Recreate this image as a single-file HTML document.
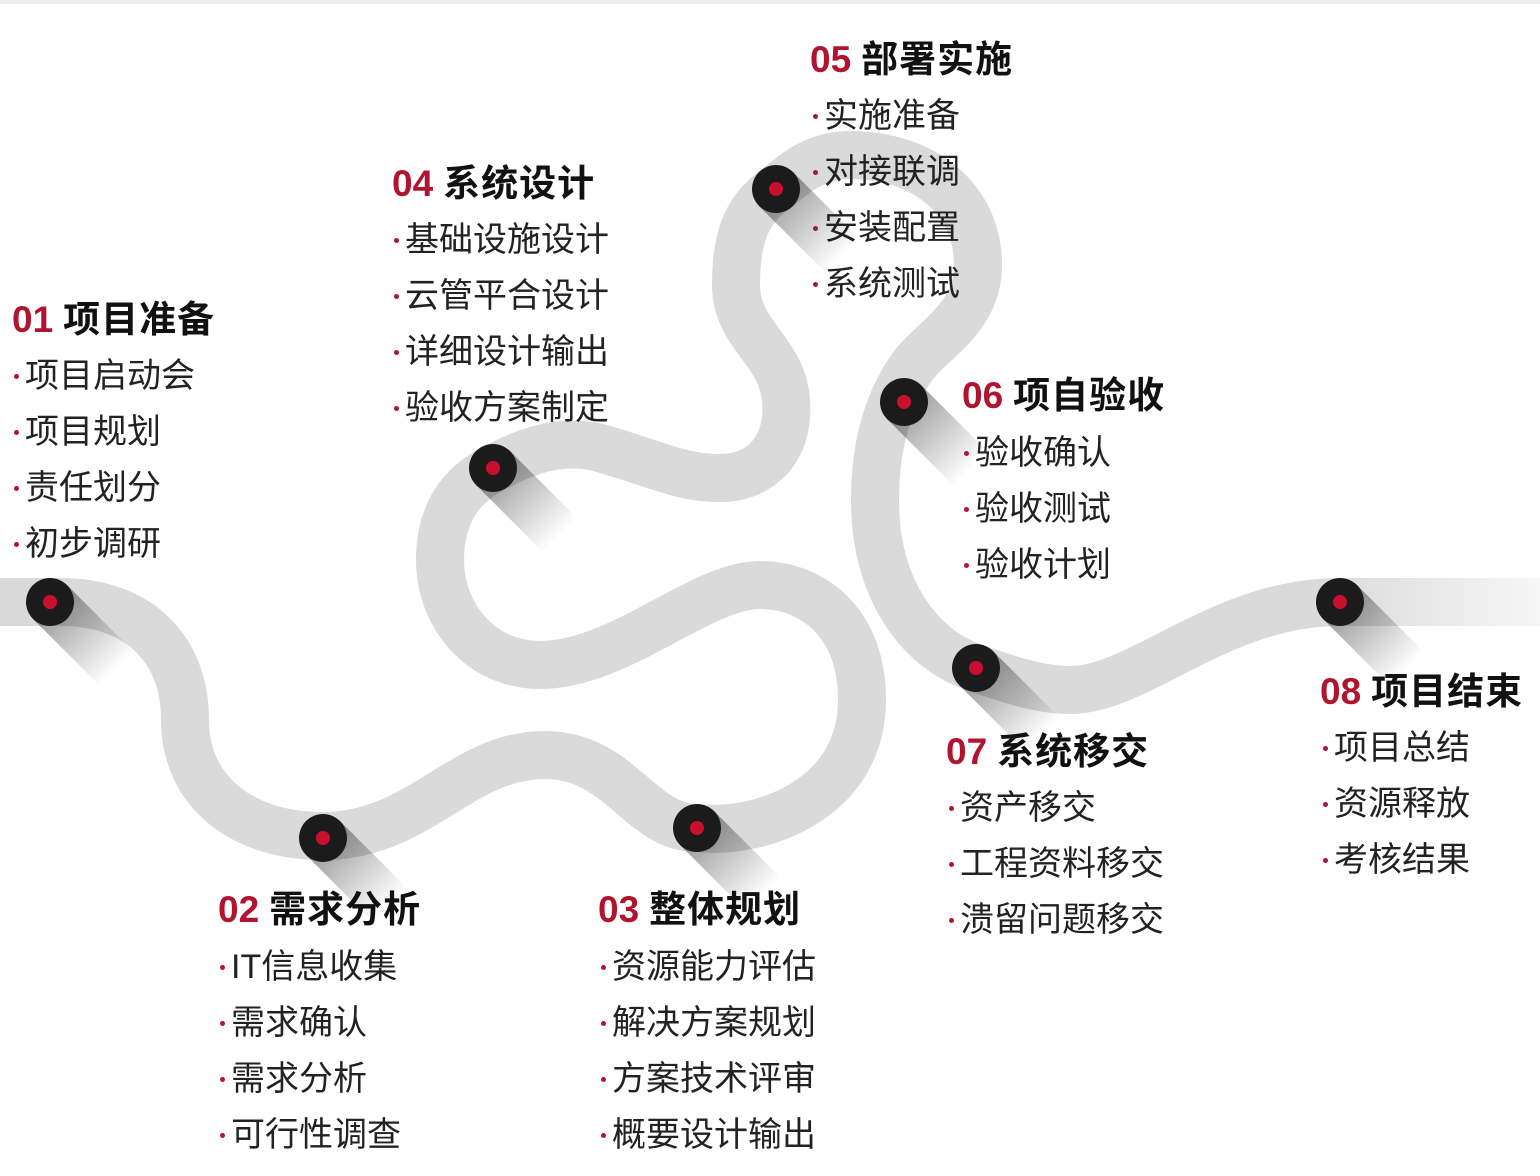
<!DOCTYPE html>
<html><head><meta charset="utf-8">
<style>
html,body{margin:0;padding:0;background:#fff;}
body{width:1540px;height:1176px;position:relative;overflow:hidden;font-family:"Liberation Sans","Noto Sans CJK SC",sans-serif;}
svg{position:absolute;left:0;top:0;}
.t{position:absolute;font-size:37px;font-weight:bold;color:#111;line-height:44px;white-space:nowrap;letter-spacing:1px;}
.t b{color:#b0142f;font-weight:bold;margin-right:10px;letter-spacing:0;}
.i{position:absolute;font-size:34px;color:#222;line-height:40px;white-space:nowrap;}
.i:before{content:"";display:inline-block;width:5px;height:5px;border-radius:50%;background:#b0142f;vertical-align:middle;margin-right:6px;position:relative;top:-2px;}
</style></head><body>
<svg width="1540" height="1176" viewBox="0 0 1540 1176">
<defs>
<linearGradient id="fade" x1="0" y1="0" x2="1" y2="0">
<stop offset="0" stop-color="#dadada"/><stop offset="0.85" stop-color="#dadada"/><stop offset="1" stop-color="#dadada" stop-opacity="0.2"/>
</linearGradient>
<linearGradient id="sh" x1="0" y1="0" x2="1" y2="0">
<stop offset="0" stop-color="#000" stop-opacity="0.4"/><stop offset="1" stop-color="#000" stop-opacity="0"/>
</linearGradient>
</defs>
<rect x="0" y="0" width="1540" height="4" fill="#eee"/>
<path fill="none" stroke="url(#fade)" stroke-width="48" stroke-linecap="butt" d="
M -10 602 L 60 602
C 140 602, 185 650, 185 720
C 185 790, 240 836, 323 836
C 420 836, 460 755, 545 755
C 620 755, 640 828, 697 828
C 760 835, 862 800, 862 700
C 862 620, 810 585, 760 585
C 700 585, 620 665, 540 665
C 480 665, 440 615, 440 560
C 440 515, 460 485, 493 469
C 535 445, 570 440, 600 448
C 660 465, 680 478, 720 478
C 760 478, 790 450, 786 400
C 782 350, 736 335, 736 285
C 736 240, 745 210, 776 189
C 800 168, 820 155, 850 155
C 925 155, 978 200, 978 265
C 978 320, 930 340, 910 370
C 890 400, 875 440, 875 500
C 875 590, 920 650, 976 668
C 1010 680, 1040 690, 1070 690
C 1140 690, 1220 602, 1340 602
L 1550 602"/>
<g>
<g transform="translate(50,602) rotate(45)"><rect x="0" y="-24" width="95" height="48" fill="url(#sh)"/></g>
<g transform="translate(323,838) rotate(45)"><rect x="0" y="-24" width="95" height="48" fill="url(#sh)"/></g>
<g transform="translate(697,828) rotate(45)"><rect x="0" y="-24" width="95" height="48" fill="url(#sh)"/></g>
<g transform="translate(493,468) rotate(45)"><rect x="0" y="-24" width="95" height="48" fill="url(#sh)"/></g>
<g transform="translate(776,189) rotate(45)"><rect x="0" y="-24" width="95" height="48" fill="url(#sh)"/></g>
<g transform="translate(904,402) rotate(45)"><rect x="0" y="-24" width="95" height="48" fill="url(#sh)"/></g>
<g transform="translate(976,668) rotate(45)"><rect x="0" y="-24" width="95" height="48" fill="url(#sh)"/></g>
<g transform="translate(1340,602) rotate(45)"><rect x="0" y="-24" width="95" height="48" fill="url(#sh)"/></g>
</g>
<g fill="#1c1b1c">
<circle cx="50" cy="602" r="24"/><circle cx="323" cy="838" r="24"/><circle cx="697" cy="828" r="24"/><circle cx="493" cy="468" r="24"/>
<circle cx="776" cy="189" r="24"/><circle cx="904" cy="402" r="24"/><circle cx="976" cy="668" r="24"/><circle cx="1340" cy="602" r="24"/>
</g>
<g fill="#c8102e">
<circle cx="50" cy="602" r="7"/><circle cx="323" cy="838" r="7"/><circle cx="697" cy="828" r="7"/><circle cx="493" cy="468" r="7"/>
<circle cx="776" cy="189" r="7"/><circle cx="904" cy="402" r="7"/><circle cx="976" cy="668" r="7"/><circle cx="1340" cy="602" r="7"/>
</g>
</svg>

<div class="t" style="left:12px;top:298px"><b>01</b>项目准备</div>
<div class="i" style="left:14px;top:356px">项目启动会</div>
<div class="i" style="left:14px;top:412px">项目规划</div>
<div class="i" style="left:14px;top:468px">责任划分</div>
<div class="i" style="left:14px;top:524px">初步调研</div>

<div class="t" style="left:218px;top:888px"><b>02</b>需求分析</div>
<div class="i" style="left:220px;top:947px">IT信息收集</div>
<div class="i" style="left:220px;top:1003px">需求确认</div>
<div class="i" style="left:220px;top:1059px">需求分析</div>
<div class="i" style="left:220px;top:1115px">可行性调查</div>

<div class="t" style="left:598px;top:888px"><b>03</b>整体规划</div>
<div class="i" style="left:601px;top:947px">资源能力评估</div>
<div class="i" style="left:601px;top:1003px">解决方案规划</div>
<div class="i" style="left:601px;top:1059px">方案技术评审</div>
<div class="i" style="left:601px;top:1115px">概要设计输出</div>

<div class="t" style="left:392px;top:162px"><b>04</b>系统设计</div>
<div class="i" style="left:394px;top:220px">基础设施设计</div>
<div class="i" style="left:394px;top:276px">云管平合设计</div>
<div class="i" style="left:394px;top:332px">详细设计输出</div>
<div class="i" style="left:394px;top:388px">验收方案制定</div>

<div class="t" style="left:810px;top:38px"><b>05</b>部署实施</div>
<div class="i" style="left:813px;top:96px">实施准备</div>
<div class="i" style="left:813px;top:152px">对接联调</div>
<div class="i" style="left:813px;top:208px">安装配置</div>
<div class="i" style="left:813px;top:264px">系统测试</div>

<div class="t" style="left:962px;top:374px"><b>06</b>项自验收</div>
<div class="i" style="left:964px;top:433px">验收确认</div>
<div class="i" style="left:964px;top:489px">验收测试</div>
<div class="i" style="left:964px;top:545px">验收计划</div>

<div class="t" style="left:946px;top:730px"><b>07</b>系统移交</div>
<div class="i" style="left:949px;top:788px">资产移交</div>
<div class="i" style="left:949px;top:844px">工程资料移交</div>
<div class="i" style="left:949px;top:900px">溃留问题移交</div>

<div class="t" style="left:1320px;top:670px"><b>08</b>项目结束</div>
<div class="i" style="left:1323px;top:728px">项目总结</div>
<div class="i" style="left:1323px;top:784px">资源释放</div>
<div class="i" style="left:1323px;top:840px">考核结果</div>
</body></html>
